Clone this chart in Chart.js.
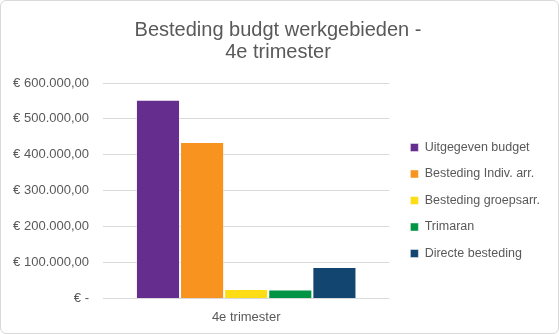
<!DOCTYPE html>
<html>
<head>
<meta charset="utf-8">
<script src="https://cdn.jsdelivr.net/npm/chart.js@4"></script>
<style>
html,body{margin:0;padding:0;background:#fff;}
#wrap{position:absolute;left:0;top:0;width:557px;height:332px;border:1px solid #d9d9d9;border-radius:6px;overflow:hidden;background:#fff;}
canvas{display:block;}
</style>
</head>
<body>
<div id="wrap"><canvas id="c" width="557" height="332"></canvas></div>
<script>
const categories = ['4e trimester'];
const seriesNames = ['Uitgegeven budget', 'Besteding Indiv. arr.', 'Besteding groepsarr.', 'Trimaran', 'Directe besteding'];
const uitgegevenBudget = [553000];
const bestedingIndiv = [436000];
const bestedingGroeps = [26500];
const trimaran = [24600];
const directeBesteding = [87600];
const yTicks = [0, 100000, 200000, 300000, 400000, 500000, 600000];
const titleLines = ['Besteding budgt werkgebieden -', '4e trimester'];

const colors = ['#652D8E', '#F7931E', '#FFDD15', '#009444', '#124570'];
const seriesValues = [uitgegevenBudget, bestedingIndiv, bestedingGroeps, trimaran, directeBesteding];

function euro(v){
  if (v === 0) return '€ -';
  const s = Math.round(v).toString().replace(/\B(?=(\d{3})+(?!\d))/g, '.');
  return '€ ' + s + ',00';
}

Chart.defaults.font.family = '"Liberation Sans", Arial, sans-serif';
Chart.defaults.color = '#595959';

const legendShift = {
  id: 'legendShift',
  afterLayout(chart) {
    const l = chart.legend;
    if (!l) return;
    const dx = 7, dy = 32;
    l.left += dx; l.right += dx;
    l.top += dy; l.bottom += dy;
  }
};

new Chart(document.getElementById('c'), {
  type: 'bar',
  data: {
    labels: categories,
    datasets: seriesValues.map((vals, i) => ({
      label: seriesNames[i],
      data: vals,
      backgroundColor: colors[i],
      borderColor: 'rgba(255,255,255,0.45)',
      borderWidth: 1,
      barPercentage: 1,
      categoryPercentage: 0.77
    }))
  },
  options: {
    responsive: false,
    animation: false,
    layout: { padding: { left: 12, right: 15, top: 8, bottom: 5 } },
    plugins: {
      title: {
        display: true,
        text: titleLines,
        color: '#595959',
        font: { size: 20, weight: 'normal', lineHeight: 1.1 },
        padding: { top: 10, bottom: 20 }
      },
      legend: {
        position: 'right',
        align: 'center',
        maxWidth: 200,
        labels: {
          boxWidth: 8,
          boxHeight: 8,
          padding: 14,
          color: '#595959',
          font: { size: 12.5 }
        }
      },
      tooltip: { enabled: false }
    },
    scales: {
      x: {
        grid: { display: false },
        border: { display: false },
        ticks: { color: '#595959', font: { size: 13 }, padding: 3 }
      },
      y: {
        min: 0,
        max: 600000,
        afterBuildTicks: (axis) => { axis.ticks = yTicks.map(v => ({ value: v })); },
        afterFit: (axis) => { axis.width = 90; },
        grid: { color: '#d9d9d9', lineWidth: 1, drawTicks: false },
        border: { display: false },
        ticks: { color: '#595959', font: { size: 13 }, padding: 14, callback: (v) => euro(v) }
      }
    }
  },
  plugins: [legendShift]
});
</script>
</body>
</html>
